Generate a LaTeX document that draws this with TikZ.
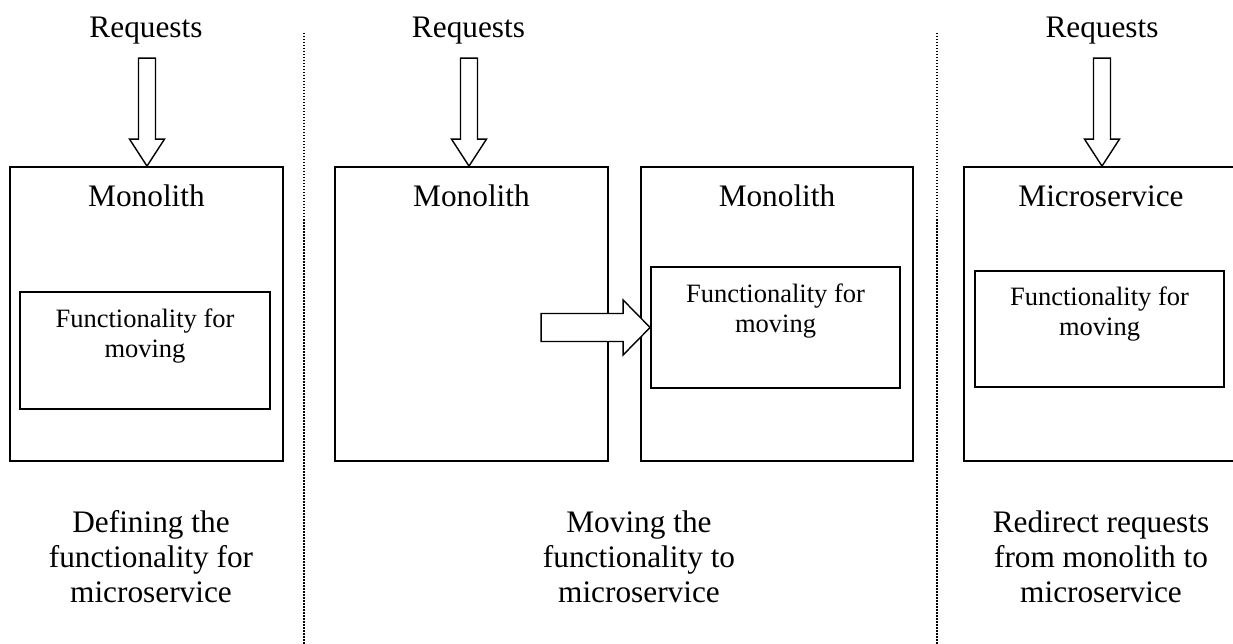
\documentclass[tikz,border=0pt]{standalone}
\usepackage{fontspec}
\setmainfont{Liberation Serif}
\begin{document}
\begin{tikzpicture}[x=1pt,y=-1pt]
\tikzset{
 box/.style={draw, line width=1.8pt, inner sep=0pt, rectangle},
 blk/.style={draw, line width=1.4pt, fill=white, line join=miter},
 sepline/.style={line width=1.8pt, dash pattern=on 1.5pt off 1.5pt},
 big/.style={font=\fontsize{31.3}{36.5}\selectfont, inner sep=0pt},
 captxt/.style={font=\fontsize{31.3}{35}\selectfont, inner sep=0pt},
 small/.style={font=\fontsize{26.5}{30.5}\selectfont, inner sep=0pt},
 downblk/.pic={\draw[blk] (-8.5,-108) -- (8.5,-108) -- (8.5,-27) -- (17.5,-27) -- (0,0) -- (-17.5,-27) -- (-8.5,-27) -- cycle;},
 rightblk/.pic={\draw[blk] (-109,-14) -- (-27,-14) -- (-27,-27.5) -- (0,0) -- (-27,27.5) -- (-27,14) -- (-109,14) -- cycle;}
}
\useasboundingbox (0,0) rectangle (1233,644);
\clip (0,0) rectangle (1233,644);
% separators
\coordinate (s1a) at (304,33); \coordinate (s1b) at (304,644);
\coordinate (s2a) at (937,33); \coordinate (s2b) at (937,644);
\draw[sepline] (s1a) -- (s1b);
\draw[sepline] (s2a) -- (s2b);
% boxes
\node[box, minimum width=273, minimum height=294] (m1) at (146.5,314) {};
\node[box, minimum width=250, minimum height=117] (f1) at (145,350.5) {};
\node[box, minimum width=273, minimum height=294] (m2) at (471.5,314) {};
\node[box, minimum width=272, minimum height=294] (m3) at (777,314) {};
\node[box, minimum width=249, minimum height=121] (f3) at (775.5,327.5) {};
\node[box, minimum width=274, minimum height=294] (m4) at (1101,314) {};
\node[box, minimum width=249, minimum height=116] (f4) at (1099.5,329) {};
% labels
\node[big, anchor=base] (r1) at (146,38) {Requests};
\node[big, anchor=base] (r2) at (468.5,38) {Requests};
\node[big, anchor=base] (r4) at (1102,38) {Requests};
\node[big, anchor=base] (l1) at (146.5,207) {Monolith};
\node[big, anchor=base] (l2) at (471.5,207) {Monolith};
\node[big, anchor=base] (l3) at (777,207) {Monolith};
\node[big, anchor=base] (l4) at (1101,207) {Microservice};
\node[small, anchor=base] (ft1) at (145,327) {\begin{tabular}[t]{@{}c@{}}Functionality for\\moving\end{tabular}};
\node[small, anchor=base] (ft3) at (775.5,302) {\begin{tabular}[t]{@{}c@{}}Functionality for\\moving\end{tabular}};
\node[small, anchor=base] (ft4) at (1099.5,305) {\begin{tabular}[t]{@{}c@{}}Functionality for\\moving\end{tabular}};
\node[captxt, anchor=base] (c1) at (151,532) {\begin{tabular}[t]{@{}c@{}}Defining the\\functionality for\\microservice\end{tabular}};
\node[captxt, anchor=base] (c2) at (639,532) {\begin{tabular}[t]{@{}c@{}}Moving the\\functionality to\\microservice\end{tabular}};
\node[captxt, anchor=base] (c3) at (1101,532) {\begin{tabular}[t]{@{}c@{}}Redirect requests\\from monolith to\\microservice\end{tabular}};
% block arrows
\pic at ([xshift=0.5pt]m1.north) {downblk};
\pic at ([xshift=-2.5pt]m2.north) {downblk};
\pic at ([xshift=1pt]m4.north) {downblk};
\pic at (f3.west) {rightblk};
\end{tikzpicture}
\end{document}
